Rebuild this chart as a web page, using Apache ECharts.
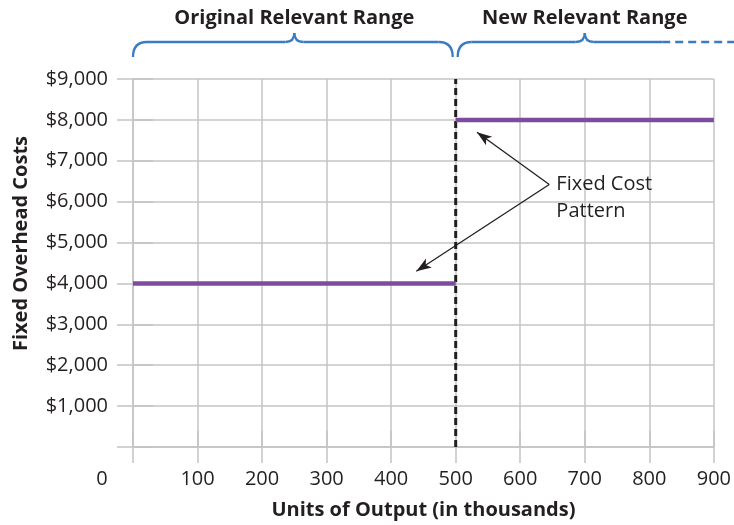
<!DOCTYPE html>
<html>
<head>
<meta charset="utf-8">
<script src="https://cdn.jsdelivr.net/npm/echarts@6/dist/echarts.min.js"></script>
<style>
html,body{margin:0;padding:0;background:#fff;}
#chart{width:734px;height:525px;}
</style>
</head>
<body>
<div id="chart"></div>
<script>
// ---- data ----
const xTicks = [0, 100, 200, 300, 400, 500, 600, 700, 800, 900];
const yTicks = [0, 1000, 2000, 3000, 4000, 5000, 6000, 7000, 8000, 9000];
const originalRange = [[0, 4000], [500, 4000]];
const newRange = [[500, 8000], [900, 8000]];
const rangeBoundary = [[500, 0], [500, 9000]];
const rangeLabels = ['Original Relevant Range', 'New Relevant Range'];
const rangeSpans = [[0, 500], [500, 900]];
const newRangeSolidEnd = 820;
const arrowFrom = [645, 6420];
const arrowTargets = [[533, 7700], [439, 4300]];
const annotationText = 'Fixed Cost\nPattern';
const annotationAt = [656, 6090];
const xAxisTitle = 'Units of Output (in thousands)';
const yAxisTitle = 'Fixed Overhead Costs';

const FONT = 'Open Sans';
const TXT = '#231F20';
const GRID = '#C4C4C4';
const PURPLE = '#7D4C9F';
const BLUE = '#3B7BC4';
const FS = 20;

const chart = echarts.init(document.getElementById('chart'), null, {renderer: 'canvas'});

const baseX = {
  type: 'value', min: xTicks[0], max: xTicks[xTicks.length - 1], interval: 100
};
const baseY = {
  type: 'value', min: yTicks[0], max: yTicks[yTicks.length - 1], interval: 1000
};

const option = {
  animation: false,
  backgroundColor: '#fff',
  grid: {left: 133, right: 20, top: 79, bottom: 77, containLabel: false},
  xAxis: [
    Object.assign({}, baseX, {
      position: 'bottom',
      axisLine: {show: true, lineStyle: {color: GRID, width: 1.5}},
      axisTick: {show: true, length: 16, lineStyle: {color: GRID, width: 1.5}},
      splitLine: {show: true, lineStyle: {color: GRID, width: 1.5}},
      axisLabel: {
        margin: 22, color: TXT, fontFamily: FONT, fontSize: FS,
        formatter: v => v === 0 ? '{z|0}' : String(v),
        rich: {z: {color: TXT, fontFamily: FONT, fontSize: FS, padding: [0, 62, 0, 0]}}
      },
      name: xAxisTitle, nameLocation: 'middle', nameGap: 53,
      nameTextStyle: {color: TXT, fontFamily: FONT, fontSize: FS, fontWeight: 'bold'}
    }),
    Object.assign({}, baseX, {
      position: 'top',
      axisLine: {show: false},
      axisTick: {show: true, length: 16, lineStyle: {color: GRID, width: 1.5}},
      splitLine: {show: false},
      axisLabel: {show: false}
    })
  ],
  yAxis: [
    Object.assign({}, baseY, {
      position: 'left',
      axisLine: {show: true, lineStyle: {color: GRID, width: 1.5}},
      axisTick: {show: true, length: 16, lineStyle: {color: GRID, width: 1.5}},
      splitLine: {show: true, lineStyle: {color: GRID, width: 1.5}},
      axisLabel: {
        margin: 25, color: TXT, fontFamily: FONT, fontSize: FS,
        formatter: v => v === 0 ? '' : '$' + v.toLocaleString('en-US')
      },
      name: yAxisTitle, nameLocation: 'middle', nameGap: 102,
      nameTextStyle: {color: TXT, fontFamily: FONT, fontSize: FS, fontWeight: 'bold', padding: [0, 0, 0, 39]}
    }),
    Object.assign({}, baseY, {
      position: 'right',
      axisLine: {show: false},
      axisTick: {show: true, length: 20, lineStyle: {color: GRID, width: 1.5}},
      splitLine: {show: false},
      axisLabel: {show: false}
    })
  ],
  series: [
    {
      type: 'line', name: 'boundary', data: rangeBoundary, symbol: 'none', z: 3,
      lineStyle: {color: TXT, width: 3, type: [7, 4]}
    },
    {
      type: 'line', name: 'Original', data: originalRange, symbol: 'none', z: 4,
      lineStyle: {color: PURPLE, width: 4.5}
    },
    {
      type: 'line', name: 'New', data: newRange, symbol: 'none', z: 4,
      lineStyle: {color: PURPLE, width: 4.5},
      markLine: {
        silent: true, animation: false,
        symbol: ['none', 'arrow'], symbolSize: [8, 15],
        lineStyle: {color: TXT, width: 1.3, type: 'solid'},
        label: {show: false},
        data: arrowTargets.map(t => [{coord: arrowFrom}, {coord: t}])
      },
      markPoint: {
        silent: true, symbol: 'circle', symbolSize: 0,
        label: {
          show: true, position: 'inside', align: 'left', verticalAlign: 'middle',
          color: TXT, fontFamily: FONT, fontSize: FS, lineHeight: 27,
          formatter: annotationText
        },
        data: [{coord: annotationAt}]
      }
    }
  ]
};
chart.setOption(option);

// ---- range braces and titles (positioned through the axes) ----
function px(x, y) { return chart.convertToPixel({gridIndex: 0}, [x, y]); }
const topY = px(0, yTicks[yTicks.length - 1])[1];
const yb = topY - 22, yh = topY - 37, yp = topY - 46, yt = topY - 61;
const W = chart.getWidth();
const graphics = [];
const stroke = {stroke: BLUE, lineWidth: 2.3, fill: null};
function seg(x1, y1, x2, y2, dash) {
  graphics.push({type: 'line', silent: true, shape: {x1, y1, x2, y2},
    style: Object.assign({}, stroke, dash ? {lineDash: dash} : {})});
}
function curve(x1, y1, cx, cy, x2, y2) {
  graphics.push({type: 'bezierCurve', silent: true,
    shape: {x1, y1, x2, y2, cpx1: cx, cpy1: cy}, style: Object.assign({}, stroke)});
}
rangeSpans.forEach((span, i) => {
  const xa = px(span[0], 0)[0] + (i === 0 ? 0 : 2);
  const xbFull = px(span[1], 0)[0] - 3;
  const xm = (px(span[0], 0)[0] + px(span[1], 0)[0]) / 2;
  const r = 14, r2 = 9;
  curve(xa, yb, xa, yh, xa + r, yh);
  seg(xa + r, yh, xm - r2, yh);
  curve(xm - r2, yh, xm, yh, xm, yp);
  curve(xm, yp, xm, yh, xm + r2, yh);
  if (i === 0) {
    seg(xm + r2, yh, xbFull - r, yh);
    curve(xbFull - r, yh, xbFull, yh, xbFull, yb);
  } else {
    const xs = px(newRangeSolidEnd, 0)[0];
    seg(xm + r2, yh, xs, yh);
    seg(xs, yh, W, yh, [8, 5]);
  }
  graphics.push({
    type: 'text', silent: true,
    x: xm, y: yt,
    style: {
      text: rangeLabels[i], fill: TXT, font: `bold ${FS}px "${FONT}"`,
      align: 'center', verticalAlign: 'middle'
    }
  });
});
chart.setOption({graphic: graphics});
</script>
</body>
</html>
